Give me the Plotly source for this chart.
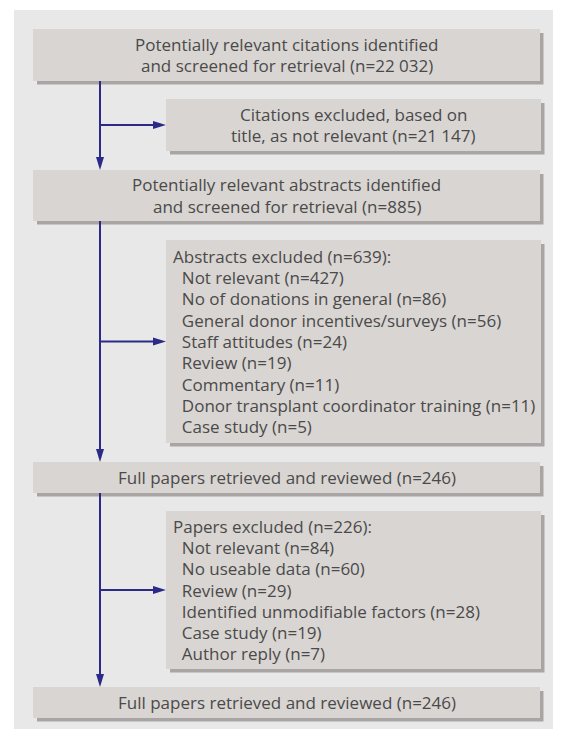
import plotly.graph_objects as go

# ---------------- data (text content of the flow chart) ----------------
stage_labels = [
    ["Potentially relevant citations identified", "and screened for retrieval"],
    ["Potentially relevant abstracts identified", "and screened for retrieval"],
    ["Full papers retrieved and reviewed"],
    ["Full papers retrieved and reviewed"],
]
stage_counts = ["22 032", "885", "246", "246"]

citation_excl_label = ["Citations excluded, based on", "title, as not relevant"]
citation_excl_count = "21 147"

abstract_excl_title = "Abstracts excluded"
abstract_excl_total = 639
abstract_reasons = [
    "Not relevant",
    "No of donations in general",
    "General donor incentives/surveys",
    "Staff attitudes",
    "Review",
    "Commentary",
    "Donor transplant coordinator training",
    "Case study",
]
abstract_counts = [427, 86, 56, 24, 19, 11, 11, 5]

paper_excl_title = "Papers excluded"
paper_excl_total = 226
paper_reasons = [
    "Not relevant",
    "No useable data",
    "Review",
    "Identified unmodifiable factors",
    "Case study",
    "Author reply",
]
paper_counts = [84, 60, 29, 28, 19, 7]

# ---------------- layout / style ----------------
W, H = 561, 729
OFF = 8  # page body margin of the html page
PANEL = "#e8e8e8"
BOX = "#d9d5d2"
SHADOW = "#a9a5a4"
ARROW = "#2b2a88"
TEXT = "#4a4a4a"
FONT = "Open Sans"
FS = 17
PITCH = 21.3

main_x = (33, 540)
side_x = (166, 541)
spine_x = 100

box_y = [(29, 81), (99, 151), (170, 221), (240, 443), (462, 493), (511, 669), (687, 718)]
box_kind = ["main", "side", "main", "side", "main", "side", "main"]


def with_count(lines, n):
    return lines[:-1] + [f"{lines[-1]} (n={n})"]


def fmt_list(title, total, reasons, counts):
    lines = [f"{title} (n={total}):"]
    for r, c in zip(reasons, counts):
        lines.append("\u00a0\u00a0" + f"{r} (n={c})")
    return lines


texts = [
    with_count(stage_labels[0], stage_counts[0]),
    with_count(citation_excl_label, citation_excl_count),
    with_count(stage_labels[1], stage_counts[1]),
    fmt_list(abstract_excl_title, abstract_excl_total, abstract_reasons, abstract_counts),
    with_count(stage_labels[2], stage_counts[2]),
    fmt_list(paper_excl_title, paper_excl_total, paper_reasons, paper_counts),
    with_count(stage_labels[3], stage_counts[3]),
]
text_align = ["center", "center", "center", "left", "center", "left", "center"]

shapes = []
annotations = []

shapes.append(dict(type="rect", xref="x", yref="y", x0=14, x1=W + 5, y0=10, y1=H + 5,
                   fillcolor=PANEL, line=dict(width=0), layer="below"))

for (y0, y1), kind, lines, al in zip(box_y, box_kind, texts, text_align):
    x0, x1 = main_x if kind == "main" else side_x
    shapes.append(dict(type="rect", xref="x", yref="y", x0=x0 + 4, x1=x1 + 3.5,
                       y0=y0 + 4, y1=y1 + 3.5, fillcolor=SHADOW, line=dict(width=0),
                       layer="below"))
    shapes.append(dict(type="rect", xref="x", yref="y", x0=x0, x1=x1, y0=y0, y1=y1,
                       fillcolor=BOX, line=dict(width=0), layer="below"))
    yc = (y0 + y1) / 2
    n = len(lines)
    for i, ln in enumerate(lines):
        yy = yc + (i - (n - 1) / 2) * PITCH
        if al == "center":
            annotations.append(dict(x=(x0 + x1) / 2, y=yy, xref="x", yref="y",
                                    text=ln, showarrow=False, xanchor="center",
                                    yanchor="middle",
                                    font=dict(family=FONT, size=FS, color=TEXT)))
        else:
            annotations.append(dict(x=x0 + 5, y=yy, xref="x", yref="y",
                                    text=ln, showarrow=False, xanchor="left",
                                    yanchor="middle",
                                    font=dict(family=FONT, size=FS, color=TEXT)))

HEAD_L, HEAD_W = 13, 4


def vline(ya, yb):
    shapes.append(dict(type="line", xref="x", yref="y", x0=spine_x, x1=spine_x,
                       y0=ya, y1=yb - HEAD_L + 1, line=dict(color=ARROW, width=2)))
    shapes.append(dict(type="path", xref="x", yref="y",
                       path=f"M{spine_x - HEAD_W},{yb - HEAD_L} L{spine_x + HEAD_W},{yb - HEAD_L} L{spine_x},{yb} Z",
                       fillcolor=ARROW, line=dict(width=0)))


def hline(y, xb):
    shapes.append(dict(type="line", xref="x", yref="y", x0=spine_x, x1=xb - HEAD_L + 1,
                       y0=y, y1=y, line=dict(color=ARROW, width=2)))
    shapes.append(dict(type="path", xref="x", yref="y",
                       path=f"M{xb - HEAD_L},{y - HEAD_W} L{xb - HEAD_L},{y + HEAD_W} L{xb},{y} Z",
                       fillcolor=ARROW, line=dict(width=0)))


main_idx = [0, 2, 4, 6]
side_idx = [1, 3, 5]
for a, b in zip(main_idx[:-1], main_idx[1:]):
    vline(box_y[a][1], box_y[b][0])
for s in side_idx:
    y0, y1 = box_y[s]
    hline((y0 + y1) / 2, side_x[0])

fig = go.Figure()
fig.update_layout(
    width=W - OFF, height=H - OFF, margin=dict(l=0, r=0, t=0, b=0),
    paper_bgcolor="white", plot_bgcolor="white",
    xaxis=dict(range=[OFF, W], visible=False, fixedrange=True),
    yaxis=dict(range=[H, OFF], visible=False, fixedrange=True),
    shapes=shapes, annotations=annotations, showlegend=False,
)
fig.write_html("out.html")
